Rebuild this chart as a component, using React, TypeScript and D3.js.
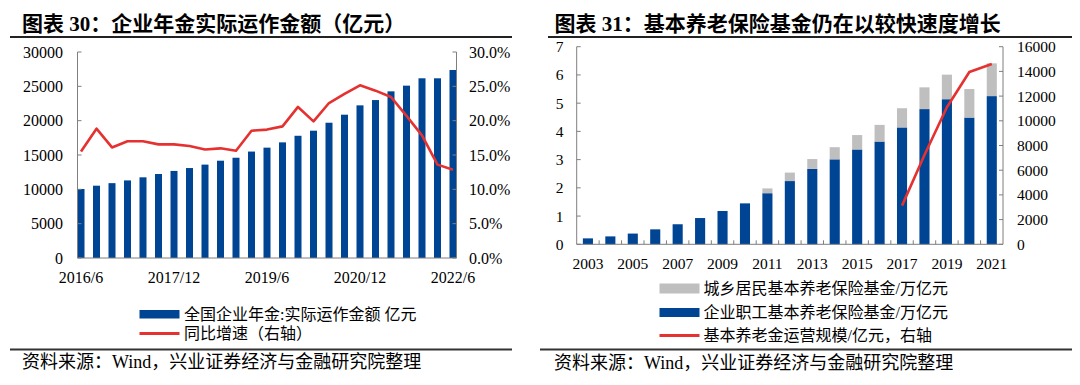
import React from 'react';
import * as d3 from 'd3';

// ---------- Left chart data (图表30) ----------
const leftCategories = [
  '2016/6', '2016/9', '2016/12', '2017/3', '2017/6', '2017/9', '2017/12',
  '2018/3', '2018/6', '2018/9', '2018/12', '2019/3', '2019/6', '2019/9',
  '2019/12', '2020/3', '2020/6', '2020/9', '2020/12', '2021/3', '2021/6',
  '2021/9', '2021/12', '2022/3', '2022/6',
];
const leftAmounts = [
  10050, 10530, 10900, 11300, 11750, 12230, 12680, 13100, 13600, 14170, 14600,
  15500, 16070, 16840, 17800, 18540, 19700, 20870, 22230, 23000, 24270, 25100,
  26170, 26170, 27380,
];
const leftGrowth = [
  15.5, 18.83, 16.1, 17.0, 17.0, 16.55, 16.55, 16.3, 15.8, 15.97, 15.63, 18.54,
  18.7, 19.17, 22.0, 19.9, 22.57, 23.9, 25.15, 24.37, 23.45, 20.7, 17.86, 13.6,
  12.86,
];
const leftXTickLabels = ['2016/6', '2017/12', '2019/6', '2020/12', '2022/6'];
const leftYTicks = [0, 5000, 10000, 15000, 20000, 25000, 30000];
const leftY2Ticks = [0, 5, 10, 15, 20, 25, 30];

// ---------- Right chart data (图表31) ----------
const rightYears = [
  '2003', '2004', '2005', '2006', '2007', '2008', '2009', '2010', '2011', '2012',
  '2013', '2014', '2015', '2016', '2017', '2018', '2019', '2020', '2021',
];
const rightEnterprise = [
  0.21, 0.28, 0.38, 0.53, 0.71, 0.93, 1.18, 1.45, 1.81, 2.24, 2.67, 3.01, 3.36,
  3.64, 4.14, 4.79, 5.14, 4.49, 5.25,
];
const rightRural = [
  0, 0, 0, 0, 0, 0, 0, 0, 0.17, 0.3, 0.35, 0.43, 0.51, 0.59, 0.68, 0.77, 0.87,
  1.01, 1.16,
];
const rightScaleYears = ['2017', '2018', '2019', '2020', '2021'];
const rightScaleValues = [3130, 7230, 11100, 13950, 14600];
const rightXTickLabels = ['2003', '2005', '2007', '2009', '2011', '2013', '2015', '2017', '2019', '2021'];
const rightYTicks = [0, 1, 2, 3, 4, 5, 6, 7];
const rightY2Ticks = [0, 2000, 4000, 6000, 8000, 10000, 12000, 14000, 16000];

const BLUE = '#004494';
const RED = '#E5312F';
const GRAY = '#BFBFBF';
const AXIS = '#7F7F7F';
const FONT = "'Liberation Serif', 'Noto Sans CJK SC', serif";
const CJK = "'Liberation Serif', 'Noto Sans CJK SC', sans-serif";

function LeftChart() {
  const x0 = 77.5, x1 = 456.5, yb = 258, yt = 52;
  const barW = 7;
  const x = d3.scalePoint<string>().domain(leftCategories).range([x0 + barW / 2, x1 - barW / 2]);
  const y = d3.scaleLinear().domain([0, 30000]).range([yb, yt]);
  const y2 = d3.scaleLinear().domain([0, 30]).range([yb, yt]);
  const line = d3.line<number>().x((_, i) => x(leftCategories[i])!).y((d) => y2(d));
  return (
    <g>
      <text x={22} y={24} fontSize={21} fontWeight="bold" fontFamily={CJK} dominantBaseline="central">
        图表 30：企业年金实际运作金额（亿元）
      </text>
      <line x1={10} x2={512} y1={37} y2={37} stroke="#222" strokeWidth={2} />
      {leftAmounts.map((v, i) => (
        <rect key={i} x={x(leftCategories[i])! - barW / 2} y={y(v)} width={barW} height={yb - y(v)} fill={BLUE} />
      ))}
      <line x1={x0} x2={x0} y1={yt} y2={yb} stroke={AXIS} />
      <line x1={x1} x2={x1} y1={yt} y2={yb} stroke={AXIS} />
      <line x1={x0} x2={x1} y1={yb} y2={yb} stroke={AXIS} />
      {leftYTicks.map((t) => (
        <g key={t}>
          <line x1={x0} x2={x0 + 4} y1={y(t)} y2={y(t)} stroke={AXIS} />
          <text x={63} y={y(t)} fontSize={16} textAnchor="end" dominantBaseline="central" fontFamily={FONT}>{t}</text>
        </g>
      ))}
      {leftY2Ticks.map((t) => (
        <g key={t}>
          <line x1={x1 - 4} x2={x1} y1={y2(t)} y2={y2(t)} stroke={AXIS} />
          <text x={469} y={y2(t)} fontSize={16} dominantBaseline="central" fontFamily={FONT}>{t.toFixed(1)}%</text>
        </g>
      ))}
      <path d={line(leftGrowth)!} fill="none" stroke={RED} strokeWidth={2.6} strokeLinejoin="round" />
      {leftXTickLabels.map((l) => (
        <text key={l} x={x(l)!} y={277} fontSize={16} textAnchor="middle" dominantBaseline="central" fontFamily={FONT}>{l}</text>
      ))}
      <rect x={139.5} y={310} width={40} height={8.5} fill={BLUE} />
      <text x={184} y={314.5} fontSize={16} dominantBaseline="central" fontFamily={CJK}>全国企业年金:实际运作金额 亿元</text>
      <line x1={139.5} x2={179.5} y1={333.5} y2={333.5} stroke={RED} strokeWidth={3} />
      <text x={184} y={333.5} fontSize={16} dominantBaseline="central" fontFamily={CJK}>同比增速（右轴）</text>
      <line x1={10} x2={512} y1={349.5} y2={349.5} stroke="#333" strokeWidth={2} />
      <text x={22} y={362} fontSize={18} dominantBaseline="central" fontFamily={CJK}>资料来源：Wind，兴业证券经济与金融研究院整理</text>
    </g>
  );
}

function RightChart() {
  const x0 = 576.7, x1 = 1003, yb = 244.3, yt = 46.7;
  const x = d3.scaleBand<string>().domain(rightYears).range([x0, x1]).paddingInner(0.55).paddingOuter(0.275);
  const y = d3.scaleLinear().domain([0, 7]).range([yb, yt]);
  const y2 = d3.scaleLinear().domain([0, 16000]).range([yb, yt]);
  const bw = x.bandwidth();
  const step = x.step();
  const line = d3.line<number>().x((_, i) => x(rightScaleYears[i])! + bw / 2).y((d) => y2(d));
  return (
    <g>
      <text x={554.5} y={24} fontSize={21} fontWeight="bold" fontFamily={CJK} dominantBaseline="central">
        图表 31：基本养老保险基金仍在以较快速度增长
      </text>
      <line x1={548} x2={1072} y1={37} y2={37} stroke="#222" strokeWidth={2} />
      {rightYears.map((yr, i) => {
        const e = rightEnterprise[i];
        const r = rightRural[i];
        return (
          <g key={yr}>
            <rect x={x(yr)!} y={y(e)} width={bw} height={yb - y(e)} fill={BLUE} />
            {r > 0 && <rect x={x(yr)!} y={y(e + r)} width={bw} height={y(e) - y(e + r)} fill={GRAY} />}
          </g>
        );
      })}
      <line x1={x0} x2={x0} y1={yt} y2={yb} stroke={AXIS} />
      <line x1={x1} x2={x1} y1={yt} y2={yb} stroke={AXIS} />
      <line x1={x0} x2={x1} y1={yb} y2={yb} stroke={AXIS} />
      {rightYears.map((yr, i) => (i > 0 ? (
        <line key={yr} x1={x0 + i * step} x2={x0 + i * step} y1={yb - 4} y2={yb} stroke={AXIS} />
      ) : null))}
      {rightYTicks.map((t) => (
        <g key={t}>
          <line x1={x0} x2={x0 + 4} y1={y(t)} y2={y(t)} stroke={AXIS} />
          <text x={563.5} y={y(t)} fontSize={15.5} textAnchor="end" dominantBaseline="central" fontFamily={FONT}>{t}</text>
        </g>
      ))}
      {rightY2Ticks.map((t) => (
        <g key={t}>
          <line x1={x1 - 4} x2={x1} y1={y2(t)} y2={y2(t)} stroke={AXIS} />
          <text x={1017} y={y2(t)} fontSize={15.5} dominantBaseline="central" fontFamily={FONT}>{t}</text>
        </g>
      ))}
      <path d={line(rightScaleValues)!} fill="none" stroke={RED} strokeWidth={2.6} strokeLinejoin="round" />
      {rightXTickLabels.map((l) => (
        <text key={l} x={x(l)! + bw / 2} y={263} fontSize={15.5} textAnchor="middle" dominantBaseline="central" fontFamily={FONT}>{l}</text>
      ))}
      <rect x={659.5} y={283.5} width={40} height={10} fill={GRAY} />
      <text x={703.5} y={288.5} fontSize={16} dominantBaseline="central" fontFamily={CJK}>城乡居民基本养老保险基金/万亿元</text>
      <rect x={659.5} y={308} width={40} height={9} fill={BLUE} />
      <text x={703.5} y={312.5} fontSize={16} dominantBaseline="central" fontFamily={CJK}>企业职工基本养老保险基金/万亿元</text>
      <line x1={659.5} x2={699.5} y1={335.5} y2={335.5} stroke={RED} strokeWidth={3} />
      <text x={703.5} y={335.5} fontSize={16} dominantBaseline="central" fontFamily={CJK}>基本养老金运营规模/亿元，右轴</text>
      <line x1={540} x2={1072} y1={349.5} y2={349.5} stroke="#333" strokeWidth={2} />
      <text x={554} y={363} fontSize={18} dominantBaseline="central" fontFamily={CJK}>资料来源：Wind，兴业证券经济与金融研究院整理</text>
    </g>
  );
}

export default function App() {
  return (
    <svg
      width={1080}
      height={385}
      viewBox="0 0 1080 385"
      style={{ position: 'absolute', left: 0, top: 0, background: '#fff' }}
    >
      <rect x={0} y={0} width={1080} height={385} fill="#fff" />
      <LeftChart />
      <RightChart />
    </svg>
  );
}
